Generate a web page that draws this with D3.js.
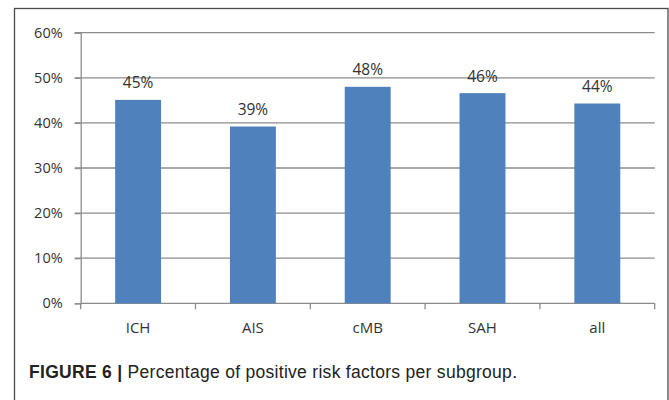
<!DOCTYPE html>
<html>
<head>
<meta charset="utf-8">
<script src="https://cdn.jsdelivr.net/npm/d3@7"></script>
<style>
  html, body { margin: 0; padding: 0; background: #fff; }
  svg { display: block; }
</style>
</head>
<body>
<svg id="chart" width="669" height="400"></svg>
<script>
const categories = ["ICH", "AIS", "cMB", "SAH", "all"];
const values = [45.1, 39.2, 48.0, 46.6, 44.3];
const valueLabels = ["45%", "39%", "48%", "46%", "44%"];
const yTicks = [0, 10, 20, 30, 40, 50, 60];
const captionBold = "FIGURE 6 |";
const captionText = " Percentage of positive risk factors per subgroup.";

const svg = d3.select("#chart");

// outer frame
svg.append("rect")
  .attr("x", 14.5).attr("y", 8.5)
  .attr("width", 653.5).attr("height", 420)
  .attr("fill", "#fff")
  .attr("stroke", "#4a4a4a").attr("stroke-width", 1.3);

const plotLeft = 80.7, plotRight = 654.7, plotTop = 32.7, plotBottom = 303.3;

const x = d3.scaleBand().domain(categories).range([plotLeft, plotRight]).paddingInner(0.6).paddingOuter(0.3);
const xEdge = d3.scaleBand().domain(categories).range([plotLeft, plotRight]);
const y = d3.scaleLinear().domain([0, 60]).range([plotBottom, plotTop]);

const labelFont = "'Open Sans', sans-serif";
const textColor = "#333";
const gridColor = "#8c8c8c";

// gridlines
svg.append("g").selectAll("line").data(yTicks.filter(d => d > 0)).join("line")
  .attr("x1", plotLeft - 6).attr("x2", plotRight)
  .attr("y1", d => y(d)).attr("y2", d => y(d))
  .attr("stroke", gridColor).attr("stroke-width", 1.3);

// y axis
const yAxis = d3.axisLeft(y).tickValues(yTicks).tickFormat(d => d + "%").tickSize(6).tickPadding(12);
const gy = svg.append("g").attr("transform", `translate(${plotLeft},0)`).call(yAxis);
gy.select(".domain").attr("stroke", gridColor).attr("stroke-width", 1.3);
gy.selectAll(".tick line").attr("stroke", gridColor).attr("stroke-width", 1.3);
gy.selectAll(".tick text")
  .attr("font-family", labelFont).attr("font-size", 14.5).attr("font-weight", 500)
  .attr("fill", textColor);

// x axis
const gx = svg.append("g").attr("transform", `translate(0,${plotBottom})`);
gx.append("line").attr("x1", plotLeft).attr("x2", plotRight).attr("y1", 0).attr("y2", 0)
  .attr("stroke", gridColor).attr("stroke-width", 1.3);
const edges = categories.map(c => xEdge(c)).concat([xEdge(categories[categories.length - 1]) + xEdge.bandwidth()]);
gx.selectAll("line.tk").data(edges).join("line").attr("class", "tk")
  .attr("x1", d => d).attr("x2", d => d).attr("y1", 0).attr("y2", 6)
  .attr("stroke", gridColor).attr("stroke-width", 1.3);
gx.selectAll("text").data(categories).join("text")
  .attr("x", d => x(d) + x.bandwidth() / 2)
  .attr("y", 29.6)
  .attr("text-anchor", "middle")
  .attr("font-family", labelFont).attr("font-size", 15).attr("font-weight", 500)
  .attr("fill", textColor)
  .text(d => d);

// bars
svg.append("g").selectAll("rect").data(values).join("rect")
  .attr("x", (d, i) => x(categories[i]))
  .attr("y", d => y(d))
  .attr("width", x.bandwidth())
  .attr("height", d => y(0) - y(d))
  .attr("fill", "#4f81bd");

// data labels
svg.append("g").selectAll("text").data(values).join("text")
  .attr("x", (d, i) => x(categories[i]) + x.bandwidth() / 2)
  .attr("y", d => y(d) - 11.5)
  .attr("text-anchor", "middle")
  .attr("font-family", labelFont).attr("font-size", 15.5).attr("font-weight", 500)
  .attr("fill", textColor)
  .text((d, i) => valueLabels[i]);

// caption
const cap = svg.append("text")
  .attr("x", 29).attr("y", 377.5)
  .attr("font-family", "'Liberation Sans', Arial, sans-serif")
  .attr("font-size", 17.5).attr("fill", "#222")
  .attr("textLength", 488).attr("lengthAdjust", "spacing");
cap.append("tspan").attr("font-weight", "bold").text(captionBold);
cap.append("tspan").text(captionText);
</script>
</body>
</html>
